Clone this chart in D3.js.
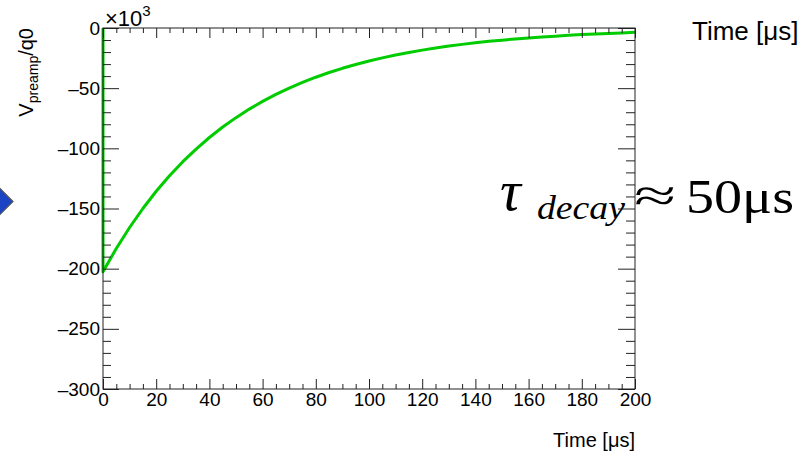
<!DOCTYPE html>
<html><head><meta charset="utf-8">
<script src="https://cdn.jsdelivr.net/npm/d3@7"></script>
<style>
html,body{margin:0;padding:0;background:#fff;}
svg{display:block;font-family:"Liberation Sans",Arial,Helvetica,sans-serif;}
</style></head>
<body>
<svg id="chart" width="805" height="453"></svg>
<script>
// time in microseconds
const timeUs = [0, 0, 5, 10, 15, 20, 25, 30, 35, 40, 45, 50, 55, 60, 65, 70, 75, 80, 85, 90, 95, 100,
  105, 110, 115, 120, 125, 130, 135, 140, 145, 150, 155, 160, 165, 170, 175, 180, 185, 190, 195, 200];
// V_preamp/q0 in units of 10^3
const vPreamp = [0, -202.5, -183.2, -165.8, -150.0, -135.7, -122.8, -111.1, -100.6, -91.0, -82.3, -74.5,
  -67.4, -61.0, -55.2, -49.9, -45.2, -40.9, -37.0, -33.5, -30.3, -27.4, -24.8, -22.4, -20.3, -18.4,
  -16.6, -15.0, -13.6, -12.3, -11.1, -10.1, -9.1, -8.3, -7.5, -6.8, -6.1, -5.5, -5.0, -4.5, -4.1, -3.5];
const xMajorTicks = [0, 20, 40, 60, 80, 100, 120, 140, 160, 180, 200];
const yMajorTicks = [0, -50, -100, -150, -200, -250, -300];
const xDomain = [0, 200];
const yDomain = [-300, 0];

const svg = d3.select("#chart");
const L = 103, R = 635, T = 28, B = 389;
const x = d3.scaleLinear().domain(xDomain).range([L, R]);
const y = d3.scaleLinear().domain(yDomain).range([B, T]);
const axisColor = "#222";
const sans = "'Liberation Sans', Arial, Helvetica, sans-serif";
const serif = "'Liberation Serif', 'DejaVu Serif', serif";

// blue diamond at left edge (partial)
svg.append("path")
  .attr("d", "M0,188.5 L13,201.5 L0,214.5 L-13,201.5 Z")
  .attr("fill", "#1a44c4").attr("stroke", "#555").attr("stroke-width", 1.2);

// curve
const line = d3.line().x((d, i) => x(timeUs[i])).y(d => y(d));
svg.append("path").datum(vPreamp)
  .attr("d", line).attr("fill", "none")
  .attr("stroke", "#00cc00").attr("stroke-width", 3).attr("stroke-linejoin", "round");

// frame
svg.append("rect").attr("x", L).attr("y", T).attr("width", R - L).attr("height", B - T)
  .attr("fill", "none").attr("stroke", axisColor).attr("stroke-width", 1);

const xMinor = d3.range(0, 201, 5).filter(v => v % 20 !== 0);
const yMinor = d3.range(-300, 1, 10).filter(v => v % 50 !== 0);

function styleTicks(g) {
  g.select(".domain").remove();
  g.selectAll(".tick line").attr("stroke", axisColor);
  g.selectAll(".tick text").style("font-family", sans).style("font-size", "19px").attr("fill", "#000");
}

// bottom axis
svg.append("g").attr("transform", `translate(0,${B})`)
  .call(d3.axisBottom(x).tickValues(xMajorTicks).tickSizeInner(-10).tickSizeOuter(0).tickPadding(4).tickFormat(d3.format("d")))
  .call(styleTicks);
svg.append("g").attr("transform", `translate(0,${B})`)
  .call(d3.axisBottom(x).tickValues(xMinor).tickSizeInner(-5).tickSizeOuter(0).tickFormat(""))
  .call(styleTicks);

// top axis
svg.append("g").attr("transform", `translate(0,${T})`)
  .call(d3.axisTop(x).tickValues(xMajorTicks).tickSizeInner(-10).tickSizeOuter(0).tickFormat(""))
  .call(styleTicks);
svg.append("g").attr("transform", `translate(0,${T})`)
  .call(d3.axisTop(x).tickValues(xMinor).tickSizeInner(-5).tickSizeOuter(0).tickFormat(""))
  .call(styleTicks);

// left axis
svg.append("g").attr("transform", `translate(${L},0)`)
  .call(d3.axisLeft(y).tickValues(yMajorTicks).tickSizeInner(-16).tickSizeOuter(0).tickPadding(3)
    .tickFormat(d => d3.format("d")(d).replace("\u2212", "\u2013")))
  .call(styleTicks);
svg.append("g").attr("transform", `translate(${L},0)`)
  .call(d3.axisLeft(y).tickValues(yMinor).tickSizeInner(-8).tickSizeOuter(0).tickFormat(""))
  .call(styleTicks);

// right axis
svg.append("g").attr("transform", `translate(${R},0)`)
  .call(d3.axisRight(y).tickValues(yMajorTicks).tickSizeInner(-17).tickSizeOuter(0).tickFormat(""))
  .call(styleTicks);
svg.append("g").attr("transform", `translate(${R},0)`)
  .call(d3.axisRight(y).tickValues(yMinor).tickSizeInner(-9).tickSizeOuter(0).tickFormat(""))
  .call(styleTicks);

// x10^3 multiplier
const mult = svg.append("text").attr("x", 105).attr("y", 26).style("font-family", sans).style("font-size", "22px");
mult.append("tspan").text("\u00d710");
mult.append("tspan").attr("dy", -10).style("font-size", "15px").text("3");

// x axis title
svg.append("text").attr("x", R).attr("y", 447).attr("text-anchor", "end")
  .style("font-family", sans).style("font-size", "20px").text("Time [\u03bcs]");

// y axis title
const yt = svg.append("text").attr("transform", `translate(33,${T}) rotate(-90)`)
  .attr("text-anchor", "end").style("font-family", sans).style("font-size", "20px");
yt.append("tspan").text("V");
yt.append("tspan").attr("dy", 5).style("font-size", "14px").text("preamp");
yt.append("tspan").attr("dy", -5).text("/q0");

// stray title at top right
svg.append("text").attr("x", 692).attr("y", 40).style("font-family", sans).style("font-size", "26px").text("Time [\u03bcs]");

// annotation tau_decay ≈ 50 μs
svg.append("text").attr("x", 500).attr("y", 210).style("font-family", serif).style("font-style", "italic")
  .style("font-size", "58px").text("\u03c4");
svg.append("text").attr("x", 537).attr("y", 219).style("font-family", serif).style("font-style", "italic")
  .style("font-size", "34px").attr("textLength", 88).attr("lengthAdjust", "spacingAndGlyphs").text("decay");
svg.append("text").attr("x", 634).attr("y", 211).style("font-family", serif)
  .style("font-size", "46px").attr("textLength", 42).attr("lengthAdjust", "spacingAndGlyphs").text("\u2248");
svg.append("text").attr("x", 686).attr("y", 213).style("font-family", serif)
  .style("font-size", "48px").attr("textLength", 108).attr("lengthAdjust", "spacingAndGlyphs").text("50\u03bcs");
</script>
</body></html>
